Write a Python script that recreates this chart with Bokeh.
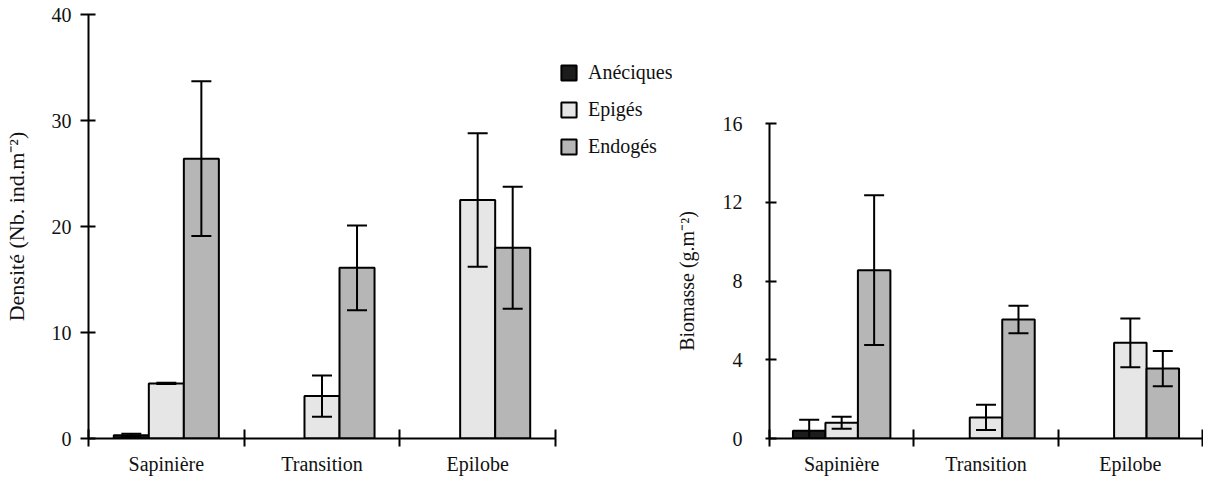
import numpy as np
from bokeh.plotting import figure
from bokeh.layouts import row
from bokeh.models import (Range1d, FixedTicker, Whisker, TeeHead, ColumnDataSource,
                          Legend, LegendItem)
from bokeh.embed import file_html
from bokeh.resources import INLINE

# ---------------- data ----------------
categories = ["Sapinière", "Transition", "Epilobe"]
series = ["Anéciques", "Epigés", "Endogés"]

# Densité (Nb. ind.m-2)  -- None = absent
dens_aneciques = [0.3, None, None]
dens_aneciques_err = [0.15, None, None]
dens_epiges = [5.2, 4.0, 22.5]
dens_epiges_err = [0.05, 1.95, 6.3]
dens_endoges = [26.4, 16.1, 18.0]
dens_endoges_err = [7.3, 4.0, 5.75]

# Biomasse (g.m-2)
bio_aneciques = [0.4, None, None]
bio_aneciques_err = [0.55, None, None]
bio_epiges = [0.8, 1.07, 4.86]
bio_epiges_err = [0.3, 0.64, 1.24]
bio_endoges = [8.55, 6.04, 3.55]
bio_endoges_err = [3.8, 0.7, 0.9]

dens_ticks = [0, 10, 20, 30, 40]
bio_ticks = [0, 4, 8, 12, 16]

colors = ["#1c1c1c", "#e6e6e6", "#b6b6b6"]
FONT = "Liberation Serif"
BAR_W = 0.225
offsets = [-BAR_W, 0.0, BAR_W]
NCAT = len(categories)
H = 488


def style_fig(p, yticks, tick_out, label_standoff, title_standoff, title_size):
    p.xgrid.visible = False
    p.ygrid.visible = False
    p.outline_line_color = None
    p.background_fill_color = "white"
    p.border_fill_color = "white"

    xa = p.xaxis[0]
    centers = [i + 0.5 for i in range(NCAT)]
    bounds = [float(i) for i in range(NCAT + 1)]
    xa.ticker = FixedTicker(ticks=centers, minor_ticks=bounds)
    xa.bounds = (0, NCAT)
    xa.major_label_overrides = {c: lab for c, lab in zip(centers, categories)}
    xa.major_tick_in = 0
    xa.major_tick_out = 0
    xa.minor_tick_in = 9
    xa.minor_tick_out = 8
    xa.minor_tick_line_width = 2
    xa.minor_tick_line_color = "black"
    xa.axis_line_width = 2
    xa.axis_line_color = "black"
    xa.major_label_standoff = 6
    xa.major_label_text_font = FONT
    xa.major_label_text_font_size = "20px"
    xa.major_label_text_color = "#111111"

    ya = p.yaxis[0]
    ya.ticker = FixedTicker(ticks=yticks, minor_ticks=[])
    ya.major_tick_in = 7
    ya.major_tick_out = tick_out
    ya.major_tick_line_width = 2
    ya.major_tick_line_color = "black"
    ya.minor_tick_in = 0
    ya.minor_tick_out = 0
    ya.axis_line_width = 2
    ya.axis_line_color = "black"
    ya.major_label_standoff = label_standoff
    ya.major_label_text_font = FONT
    ya.major_label_text_font_size = "20px"
    ya.major_label_text_color = "#111111"
    ya.axis_label_standoff = title_standoff
    ya.axis_label_text_font = FONT
    ya.axis_label_text_font_size = title_size
    ya.axis_label_text_font_style = "normal"
    ya.axis_label_text_color = "#111111"


def draw_series(p, vals, errs, k):
    xs, tops, ups, los = [], [], [], []
    for i, (v, e) in enumerate(zip(vals, errs)):
        if v is None:
            continue
        xs.append(i + 0.5 + offsets[k])
        tops.append(v)
        ups.append(v + e)
        los.append(v - e)
    src = ColumnDataSource(dict(x=xs, top=tops, upper=ups, lower=los))
    r = p.vbar(x="x", top="top", bottom=0, width=BAR_W, source=src,
               fill_color=colors[k], line_color="black", line_width=2)
    w = Whisker(base="x", upper="upper", lower="lower", source=src,
                line_color="black", line_width=2, level="overlay",
                upper_head=TeeHead(size=20, line_width=2, line_color="black"),
                lower_head=TeeHead(size=20, line_width=2, line_color="black"))
    p.add_layout(w)
    return r


# ---------------- left: Densité ----------------
W1 = 672
L1 = 83                      # frame left inside figure
AXIS1_PX = 471               # pixel length of the 3 categories
frame1_w = W1 - L1
x1_end = NCAT * frame1_w / AXIS1_PX   # extra room on the right for the legend
p1 = figure(width=W1, height=H, x_range=Range1d(0, x1_end), y_range=Range1d(0, 40),
            output_backend="svg", toolbar_location=None, frame_align=False,
            min_border_left=L1, min_border_right=0, min_border_top=14, min_border_bottom=50)
style_fig(p1, dens_ticks, 8, 9, 20, "22px")
p1.yaxis[0].axis_label = "Densité (Nb. ind.m⁻²)"
r0 = draw_series(p1, dens_aneciques, dens_aneciques_err, 0)
r1 = draw_series(p1, dens_epiges, dens_epiges_err, 1)
r2 = draw_series(p1, dens_endoges, dens_endoges_err, 2)

legend = Legend(items=[LegendItem(label=s, renderers=[r]) for s, r in zip(series, [r0, r1, r2])],
                location=(AXIS1_PX, 280), padding=0, margin=0,
                border_line_alpha=0, background_fill_alpha=0,
                glyph_width=19, glyph_height=19, label_height=20,
                label_standoff=10, spacing=14,
                label_text_font=FONT, label_text_font_size="20px",
                label_text_color="#111111")
p1.add_layout(legend)

# ---------------- right: Biomasse ----------------
W2 = 1203 - W1
p2 = figure(width=W2, height=H, x_range=Range1d(0, NCAT), y_range=Range1d(0, 16),
            output_backend="svg", toolbar_location=None, frame_align=False,
            min_border_left=92, min_border_right=1, min_border_top=123, min_border_bottom=50)
style_fig(p2, bio_ticks, 4, 23, 22, "20px")
p2.yaxis[0].axis_label = "Biomasse (g.m⁻²)"
draw_series(p2, bio_aneciques, bio_aneciques_err, 0)
draw_series(p2, bio_epiges, bio_epiges_err, 1)
draw_series(p2, bio_endoges, bio_endoges_err, 2)

layout = row(p1, p2)
open("out.html", "w").write(file_html(layout, INLINE))
